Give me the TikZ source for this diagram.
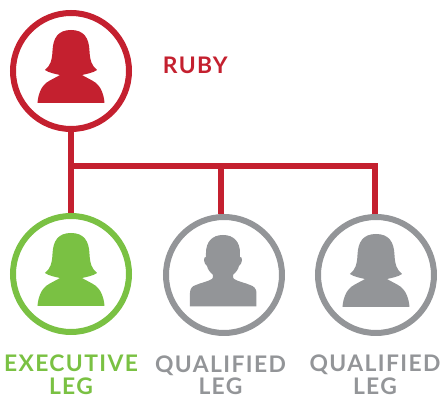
\documentclass[tikz,border=0pt]{standalone}
\usepackage{fontspec}
\usepackage{xcolor}
\newfontfamily\legfont[LetterSpace=6]{Lato}
\definecolor{rubyred}{HTML}{C4202F}
\definecolor{legreen}{HTML}{7AC143}
\definecolor{leggrey}{HTML}{939598}

\begin{document}
\begin{tikzpicture}[x=0.02cm, y=-0.02cm,
        person/.style={circle, draw, fill=white, line width=6*0.02cm, minimum size=116*0.02cm, inner sep=0pt},
        bus/.style={rubyred, line width=6*0.02cm},
        leglabel/.style={font=\legfont\bfseries\fontsize{13}{15}\selectfont, inner sep=0pt, anchor=base},
        woman/.pic={
            \path[pic actions] (0,-41) .. controls (13,-41) and (18,-33) .. (18.5,-20)
                .. controls (19,-10) and (21,-5) .. (26,-1)
                .. controls (22,2) and (15,3) .. (11,4)
                .. controls (16,7) and (21,9) .. (25,12)
                .. controls (30,16) and (33,24) .. (33.5,32)
                -- (-33.5,32)
                .. controls (-33,24) and (-30,16) .. (-25,12)
                .. controls (-21,9) and (-16,7) .. (-11,4)
                .. controls (-15,3) and (-22,2) .. (-26,-1)
                .. controls (-21,-5) and (-19,-10) .. (-18.5,-20)
                .. controls (-18,-33) and (-13,-41) .. (0,-41) -- cycle;
        },
        man/.pic={
            \path[pic actions] (-1,-40) .. controls (10,-40) and (16,-33) .. (16,-22)
                -- (16,-18)
                .. controls (19,-19) and (18.5,-11) .. (15,-9)
                .. controls (14,-5) and (12,-3) .. (9,0)
                .. controls (9,2) and (9,3) .. (10,4)
                .. controls (15,7) and (22,8) .. (26,10)
                .. controls (30,11) and (32.5,14) .. (32.5,18)
                -- (32.5,31.5)
                -- (-34,31.5)
                -- (-34,18)
                .. controls (-34,14) and (-32,11) .. (-28,10)
                .. controls (-24,8) and (-17,7) .. (-12,4)
                .. controls (-11,3) and (-11,2) .. (-11,0)
                .. controls (-14,-3) and (-16,-5) .. (-17,-9)
                .. controls (-20.5,-11) and (-21,-19) .. (-18,-18)
                -- (-18,-22)
                .. controls (-18,-33) and (-12,-40) .. (-1,-40) -- cycle;
        }]
    \useasboundingbox (0,0) rectangle (441,398);

    \coordinate (busA) at (221,166);
    \coordinate (busB) at (375,166);

    \node[person, draw=rubyred] (ruby) at (71,71) {};
    \node[person, draw=legreen] (exec) at (71,274) {};
    \node[person, draw=leggrey] (qualA) at (224,275) {};
    \node[person, draw=leggrey] (qualB) at (376,275) {};

    \pic[fill=rubyred] at (ruby) {woman};
    \pic[fill=legreen] at (exec) {woman};
    \pic[fill=leggrey] at (qualA) {man};
    \pic[fill=leggrey] at (qualB) {woman};

    \draw[bus] (ruby.south) -- (exec.north);
    \draw[bus] (ruby |- busA) -- (busB) -- (busB |- qualB.north);
    \draw[bus] (busA) -- (busA |- qualA.north);

    \node[leglabel, text=rubyred, anchor=base west] (rubyname) at (162.5,74) {RUBY};
    \node[leglabel, text=legreen] (execname) at (71,372) {EXECUTIVE};
    \node[leglabel, text=legreen] (execleg) at (71,395) {LEG};
    \node[leglabel, text=leggrey] (qualAname) at (220.5,373) {QUALIFIED};
    \node[leglabel, text=leggrey] (qualAleg) at (220.5,395) {LEG};
    \node[leglabel, text=leggrey] (qualBname) at (375,372) {QUALIFIED};
    \node[leglabel, text=leggrey] (qualBleg) at (375,395) {LEG};
\end{tikzpicture}
\end{document}
